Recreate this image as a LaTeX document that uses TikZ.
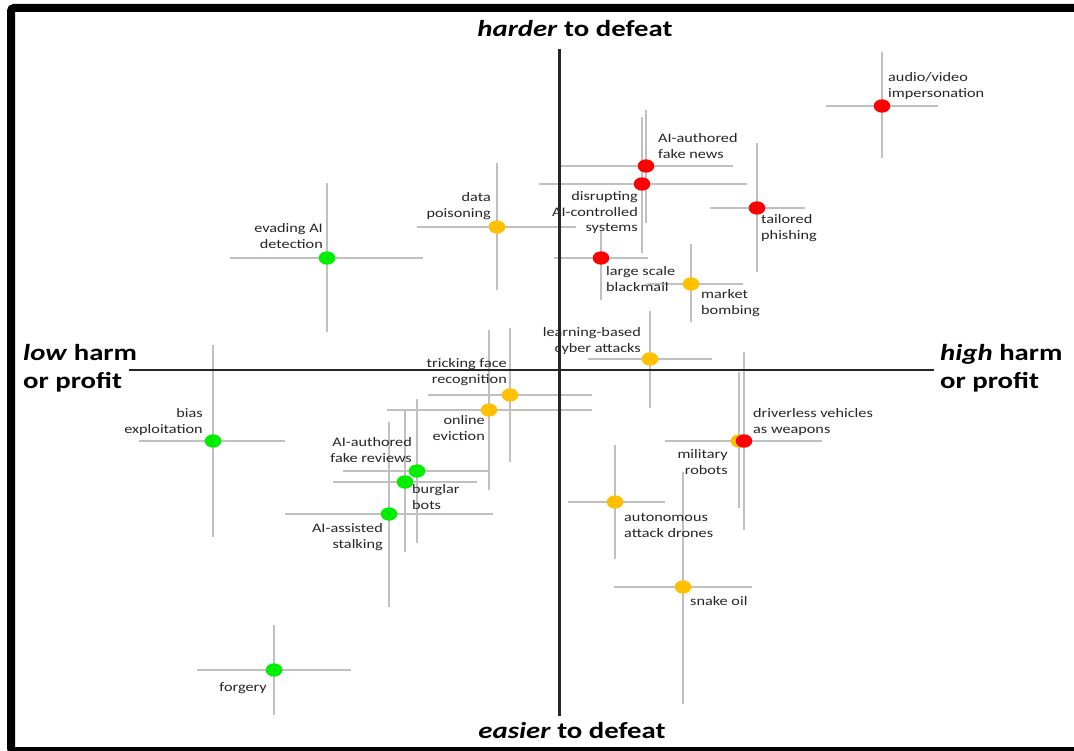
\documentclass[tikz,border=0pt]{standalone}
\usepackage{fontspec}
\setmainfont{Carlito}
\newfontfamily\lblfont[FakeStretch=1.25]{Carlito}
\usetikzlibrary{shapes.geometric}
\definecolor{lg}{RGB}{192,192,192}
\definecolor{dred}{RGB}{255,0,0}
\definecolor{dgreen}{RGB}{0,238,0}
\definecolor{dgold}{RGB}{255,192,0}
\begin{document}
\begin{tikzpicture}[x=1pt,y=-1pt,
  bar/.style={draw=lg,line width=1.6pt},
  dot/.style={ellipse,minimum width=16.6pt,minimum height=13.4pt,inner sep=0pt,draw=none},
  lbl/.style={font=\lblfont\fontsize{13}{15.8}\selectfont,text=black!85,inner sep=0pt},
  lw/.style={lbl,anchor=north west,align=left},
  le/.style={lbl,anchor=north east,align=right},
  axlbl/.style={font=\lblfont\bfseries\fontsize{23}{28}\selectfont,inner sep=0pt},
  axis/.style={draw=black!85,line width=2.6pt}]
\clip (0,0) rectangle (1074,751);
\fill[white] (0,0) rectangle (1074,751);
% frame
\draw[line width=8pt,rounded corners=3pt] (11,8) rectangle (1095,751);
% data: name/x/y/vtop/vbot/hleft/hright/colour
\def\risks{av/882/106/52/158/826/938/dred,
fn/646/166/110/223/560/733/dred,
dis/642/184/117/253/539/747/dred,
dp/497/227/163/290/417/576/dgold,
tp/757/208/143/272/710/805/dred,
bm/601/258/230/300/554/648/dred,
mb/691/284/244/322/647/743/dgold,
ev/327/258/183/332/230/423/dgreen,
lb/650/359/311/408/588/712/dgold,
tf/510/395/328/462/428/592/dgold,
oe/489/410/330/490/387/592/dgold,
bias/213/441/345/537/139/285/dgreen,
fr/417/471/399/543/343/490/dgreen,
bb/405/482/410/552/333/477/dgreen,
st/389/514/422/607/285/493/dgreen,
mr/739/441/372/508/665/822/dgold,
dv/744/441/352/530/665/822/dred,
ad/615/502/445/559/568/665/dgold,
so/683/587/472/704/614/752/dgold,
fg/274/670/625/715/197/351/dgreen}
\foreach \n/\x/\y/\vt/\vb/\hl/\hr/\c in \risks {
  \coordinate (\n-t) at (\x,\vt);
  \coordinate (\n-b) at (\x,\vb);
  \coordinate (\n-l) at (\hl,\y);
  \coordinate (\n-r) at (\hr,\y);
  \draw[bar] (\n-t) -- (\n-b);
  \draw[bar] (\n-l) -- (\n-r);
}
% axes
\coordinate (ax-l) at (129,370);
\coordinate (ax-r) at (934,370);
\coordinate (ax-t) at (559,49);
\coordinate (ax-b) at (559,716);
\draw[axis] (ax-l) -- (ax-r);
\draw[axis,line width=3pt] (ax-t) -- (ax-b);
% dots
\foreach \n/\x/\y/\vt/\vb/\hl/\hr/\c in \risks {
  \node[dot,fill=\c] (\n) at (\x,\y) {};
}
% labels
\node[lw] (av-lbl) at (888,70) {\strut audio/video\\impersonation};
\node[lw] (fn-lbl) at (658,131) {\strut AI-authored\\fake news};
\node[le] (dis-lbl) at (638,189) {\strut disrupting\\AI-controlled\\systems};
\node[le] (dp-lbl) at (491,190) {\strut data\\poisoning};
\node[lw] (tp-lbl) at (761,212) {\strut tailored\\phishing};
\node[lw] (bm-lbl) at (606,264) {\strut large scale\\blackmail};
\node[lw] (mb-lbl) at (701,287) {\strut market\\bombing};
\node[le] (ev-lbl) at (323,221) {\strut evading AI\\detection};
\node[le] (lb-lbl) at (641,325) {\strut learning-based\\cyber attacks};
\node[le] (tf-lbl) at (507,356) {\strut tricking face\\recognition};
\node[le] (oe-lbl) at (485,413) {\strut online\\eviction};
\node[le] (bias-lbl) at (203,406) {\strut bias\\exploitation};
\node[le] (fr-lbl) at (412,435) {\strut AI-authored\\fake reviews};
\node[lw] (bb-lbl) at (412,482) {\strut burglar\\bots};
\node[le] (st-lbl) at (383,521) {\strut AI-assisted\\stalking};
\node[lw] (dv-lbl) at (753,406) {\strut driverless vehicles\\as weapons};
\node[le] (mr-lbl) at (728,447) {\strut military\\robots};
\node[lw] (ad-lbl) at (624,510) {\strut autonomous\\attack drones};
\node[lw] (so-lbl) at (690,594) {\strut snake oil};
\node[le] (fg-lbl) at (267,680) {\strut forgery};
% axis labels
\node[axlbl,anchor=base] (top-lbl) at (575,37) {\textit{harder} to defeat};
\node[axlbl,anchor=base] (bot-lbl) at (572,738) {\textit{easier} to defeat};
\node[axlbl,anchor=north west,align=left] (left-lbl) at (23,340.4) {\strut\textit{low} harm\\or profit};
\node[axlbl,anchor=north west,align=left] (right-lbl) at (940,340.4) {\strut\textit{high} harm\\or profit};
\end{tikzpicture}
\end{document}
